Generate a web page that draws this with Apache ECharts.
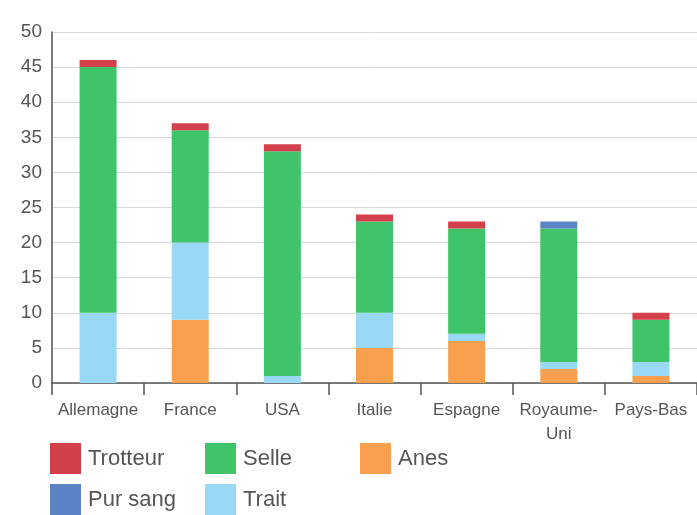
<!DOCTYPE html>
<html><head><meta charset="utf-8">
<script src="https://cdn.jsdelivr.net/npm/echarts@6/dist/echarts.min.js"></script>
<style>html,body{margin:0;padding:0;background:#fff}#c{width:697px;height:515px}</style>
</head><body><div id="c"></div>
<script>
const categories = ["Allemagne","France","USA","Italie","Espagne","Royaume-Uni","Pays-Bas"];
const anes     = [0, 9, 0, 5, 6, 2, 1];
const trait    = [10, 11, 1, 5, 1, 1, 2];
const selle    = [35, 16, 32, 13, 15, 19, 6];
const pursang  = [0, 0, 0, 0, 0, 1, 0];
const trotteur = [1, 1, 1, 1, 1, 0, 1];
const yTicks = [0,5,10,15,20,25,30,35,40,45,50];

const FONT = "'Liberation Sans',Arial,sans-serif";
const colors = {Trotteur:'#d33f4b', 'Pur sang':'#5b84c6', Selle:'#3fc469', Trait:'#9ad9f6', Anes:'#f8a04e'};
const mk = (name, data) => ({name, type:'bar', stack:'s', data, barWidth:37,
  itemStyle:{color:colors[name]}});
const legendPos = [
  ['Trotteur',50,443],['Selle',205,443],['Anes',360,443],
  ['Pur sang',50,484],['Trait',205,484]];
const chart = echarts.init(document.getElementById('c'));
chart.setOption({
  animation:false,
  backgroundColor:'#fff',
  textStyle:{fontFamily:FONT},
  grid:{left:52,top:32,width:649,height:351,containLabel:false},
  legend: legendPos.map(([n,x,y])=>({data:[n],left:x,top:y,itemWidth:31,itemHeight:31,itemGap:0,padding:0,
    icon:'rect',textStyle:{fontFamily:FONT,fontSize:22,color:'#555',padding:[0,0,0,2]},selectedMode:false})),
  xAxis:{type:'category',data:categories,
    axisLine:{lineStyle:{color:'#555',width:1.5}},
    axisTick:{show:true,alignWithLabel:false,interval:0,length:12,lineStyle:{color:'#555',width:1.5}},
    axisLabel:{fontFamily:FONT,fontSize:17,color:'#555',margin:15,lineHeight:24,interval:0,
      formatter:v=>v.replace('Royaume-','Royaume-\n')}},
  yAxis:{type:'value',min:0,max:50,interval:5,
    axisLine:{show:true,lineStyle:{color:'#555',width:1.5}},
    axisTick:{show:false},
    splitLine:{lineStyle:{color:'#d8d8d8'}},
    axisLabel:{fontFamily:FONT,fontSize:19,color:'#555',margin:10,
      formatter:v=>yTicks.includes(v)?String(v):''}},
  series:[mk('Anes',anes),mk('Trait',trait),mk('Selle',selle),mk('Pur sang',pursang),mk('Trotteur',trotteur)]
});
</script></body></html>
